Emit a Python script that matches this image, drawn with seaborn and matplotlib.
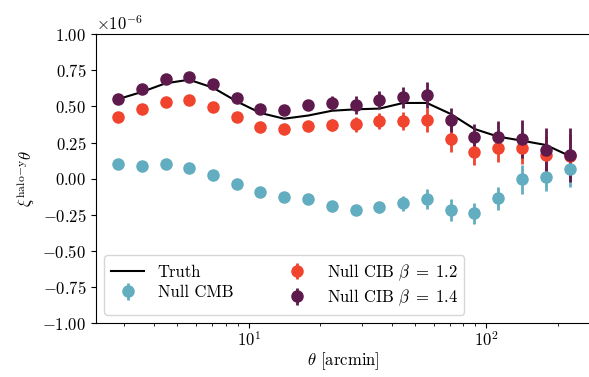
import matplotlib
matplotlib.use("Agg")
import matplotlib.pyplot as plt
import numpy as np
import pandas as pd
import seaborn as sb

# angular bins (arcmin)
theta = [2.82, 3.55, 4.47, 5.62, 7.08, 8.91, 11.2, 14.1, 17.8, 22.4,
         28.2, 35.5, 44.7, 56.2, 70.8, 89.1, 112, 141, 178, 224]

# values in units of 1e-6
truth = [0.55, 0.60, 0.66, 0.685, 0.63, 0.535, 0.455, 0.415, 0.437, 0.47,
         0.48, 0.485, 0.524, 0.524, 0.448, 0.344, 0.291, 0.263, 0.233, 0.157]

cmb = [0.099, 0.090, 0.099, 0.072, 0.025, -0.035, -0.093, -0.125, -0.143, -0.189,
       -0.217, -0.199, -0.171, -0.141, -0.217, -0.240, -0.136, -0.005, 0.013, 0.065]
cmb_err = [0.015, 0.015, 0.015, 0.015, 0.015, 0.015, 0.02, 0.02, 0.025, 0.03,
           0.035, 0.04, 0.05, 0.07, 0.074, 0.074, 0.08, 0.1, 0.096, 0.125]

cib12 = [0.425, 0.482, 0.533, 0.545, 0.498, 0.429, 0.360, 0.344, 0.365, 0.370,
         0.376, 0.401, 0.399, 0.406, 0.275, 0.185, 0.214, 0.210, 0.164, 0.157]
cib12_err = [0.015, 0.015, 0.015, 0.015, 0.015, 0.02, 0.02, 0.025, 0.03, 0.04,
             0.05, 0.055, 0.06, 0.08, 0.09, 0.09, 0.1, 0.11, 0.13, 0.15]

cib14 = [0.552, 0.623, 0.692, 0.706, 0.654, 0.561, 0.485, 0.476, 0.512, 0.522,
         0.510, 0.545, 0.563, 0.577, 0.406, 0.291, 0.287, 0.273, 0.198, 0.164]
cib14_err = [0.015, 0.015, 0.015, 0.015, 0.015, 0.02, 0.02, 0.025, 0.035, 0.05,
             0.06, 0.06, 0.074, 0.09, 0.08, 0.09, 0.11, 0.13, 0.15, 0.19]

plt.rcParams["font.family"] = "serif"
plt.rcParams["font.serif"] = ["cmr10"]
plt.rcParams["mathtext.fontset"] = "cm"
plt.rcParams["axes.formatter.use_mathtext"] = True
plt.rcParams["font.size"] = 12
plt.rcParams["xtick.major.pad"] = 1.5

df = pd.DataFrame({"theta": theta, "truth": np.array(truth) * 1e-6})

fig = plt.figure(figsize=(5.89, 3.77), dpi=100)
ax = fig.add_axes([0.163, 0.1432, 0.840, 0.766])

sb.lineplot(data=df, x="theta", y="truth", color="black", lw=1.5, ax=ax, label="Truth")

for vals, errs, col, lab in [(cmb, cmb_err, "#63adc0", "Null CMB"),
                             (cib12, cib12_err, "#f0442f", r"Null CIB $\beta\;=\;1.2$"),
                             (cib14, cib14_err, "#5e1a4c", r"Null CIB $\beta\;=\;1.4$")]:
    ax.errorbar(theta, np.array(vals) * 1e-6, yerr=np.array(errs) * 1e-6, fmt="o",
                color=col, ms=8, elinewidth=2, capsize=0, label=lab)

ax.set_xscale("log")
ax.set_xlim(2.28, 275)
ax.set_ylim(-1e-6, 1e-6)
ax.set_yticks(np.linspace(-1e-6, 1e-6, 9))
ax.set_xlabel(r"$\theta$ [arcmin]", labelpad=1)
ax.set_ylabel(r"$\xi^{\rm halo\!-\!y}\theta$")
ax.legend(loc="lower left", ncol=2, fontsize=12, labelspacing=0.3, columnspacing=2.8)

fig.savefig("out.png", dpi=100)
